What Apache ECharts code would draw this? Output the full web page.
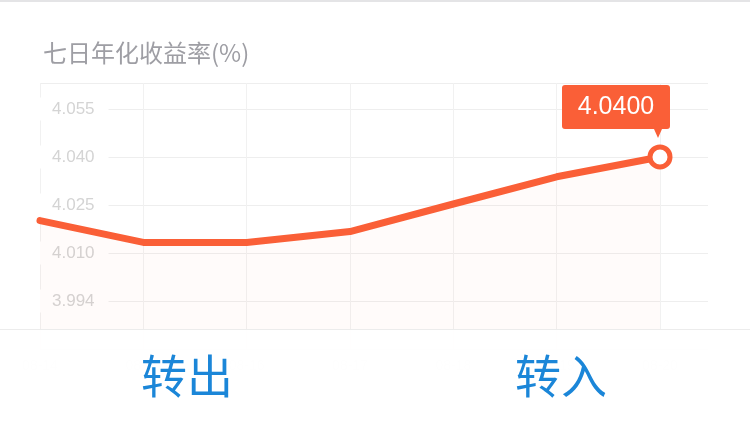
<!DOCTYPE html>
<html>
<head>
<meta charset="utf-8">
<script src="https://cdn.jsdelivr.net/npm/echarts@6/dist/echarts.min.js"></script>
<style>
html,body{margin:0;padding:0;background:#fff;}
#c{width:750px;height:423px;}
</style>
</head>
<body>
<div id="c"></div>
<script>
var titleText = '七日年化收益率(%)';
var categories = ['08-14','08-15','08-16','08-17','08-18','08-19','08-20'];
var yields = [4.0201, 4.0133, 4.0133, 4.0167, 4.0253, 4.0338, 4.0400];
var yTickValues = [3.995, 4.010, 4.025, 4.040, 4.055];
var yTickLabels = ['3.994', '4.010', '4.025', '4.040', '4.055'];
var buttonLabels = ['转出', '转入'];

var lineColor = '#fa5f37';
var lastIdx = yields.length - 1;

var seriesData = yields.map(function (v, i) {
  if (i === lastIdx) {
    return {
      value: [i, v],
      symbol: 'circle',
      symbolSize: 20,
      itemStyle: { color: '#fff', borderColor: lineColor, borderWidth: 5 }
    };
  }
  return { value: [i, v], symbol: 'none' };
});

var chart = echarts.init(document.getElementById('c'));
chart.setOption({
  backgroundColor: '#fff',
  animation: false,
  title: {
    text: titleText,
    left: 38,
    top: 36,
    textStyle: { fontSize: 24, fontWeight: 'normal', color: '#9e9ea4', fontFamily: 'Noto Sans CJK SC' }
  },
  grid: { left: 40, right: 42, top: 83, bottom: 74 },
  xAxis: {
    type: 'value',
    min: 0,
    max: 6.4645,
    interval: 1,
    axisLine: { show: false },
    axisTick: { show: false },
    splitLine: { show: true, showMaxLine: false, lineStyle: { color: '#f1f1f1', width: 1 } },
    axisLabel: {
      showMaxLabel: false,
      color: '#e8e8e8',
      fontSize: 14,
      margin: 10,
      formatter: function (v) { return categories[Math.round(v)] || ''; }
    }
  },
  yAxis: {
    type: 'value',
    min: 3.980,
    max: 4.0631,
    interval: 0.015,
    axisLine: { show: false },
    axisTick: { show: false },
    splitLine: { show: true, lineStyle: { color: '#eeeeee', width: 1 } },
    axisLabel: {
      inside: true,
      showMinLabel: false,
      showMaxLabel: false,
      margin: 0,
      color: '#d4d4d4',
      fontSize: 17,
      fontFamily: 'Liberation Sans',
      backgroundColor: '#fff',
      padding: [3, 14, 3, 12],
      formatter: function (v) {
        for (var i = 0; i < yTickValues.length; i++) {
          if (Math.abs(v - yTickValues[i]) < 1e-6) return yTickLabels[i];
        }
        return '';
      }
    }
  },
  series: [{
    type: 'line',
    data: seriesData,
    symbol: 'none',
    showSymbol: true,
    smooth: false,
    lineStyle: { color: lineColor, width: 7, join: 'round', cap: 'round' },
    itemStyle: { color: lineColor },
    areaStyle: { color: 'rgba(250,95,55,0.04)', origin: 'start' },
    markPoint: {
      symbol: 'path://M3,0 H105 Q108,0 108,3 V41 Q108,44 105,44 H100 L96,53 L92,44 H3 Q0,44 0,41 V3 Q0,0 3,0 Z',
      symbolSize: [108, 53],
      symbolKeepAspect: false,
      symbolOffset: [-44, -45.5],
      itemStyle: { color: lineColor },
      label: {
        show: true,
        position: 'inside',
        offset: [0, -4.5],
        color: '#fff',
        fontSize: 25,
        fontFamily: 'Liberation Sans',
        formatter: function (p) { return Number(p.value).toFixed(4); }
      },
      data: [{ coord: [lastIdx, yields[lastIdx]], value: yields[lastIdx] }]
    }
  }],
  graphic: [
    { type: 'line', z: 100, shape: { x1: 0, y1: 1, x2: 750, y2: 1 }, style: { stroke: '#e4e4e6', lineWidth: 2 } },
    { type: 'rect', z: 100, shape: { x: 0, y: 329, width: 750, height: 94 }, style: { fill: 'rgba(255,255,255,0.94)', stroke: null } },
    { type: 'line', z: 101, shape: { x1: 0, y1: 329.5, x2: 750, y2: 329.5 }, style: { stroke: '#ececec', lineWidth: 1 } },
    { type: 'text', z: 102, x: 187, y: 376, style: { text: buttonLabels[0], fill: '#1b86d8', fontSize: 46, fontFamily: 'Noto Sans CJK SC', align: 'center', verticalAlign: 'middle' } },
    { type: 'text', z: 102, x: 561, y: 376, style: { text: buttonLabels[1], fill: '#1b86d8', fontSize: 46, fontFamily: 'Noto Sans CJK SC', align: 'center', verticalAlign: 'middle' } }
  ]
});
</script>
</body>
</html>
